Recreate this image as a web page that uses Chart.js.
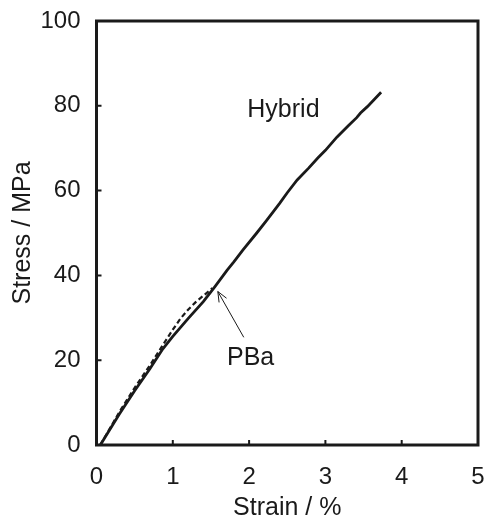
<!DOCTYPE html>
<html>
<head>
<meta charset="utf-8">
<script src="https://cdn.jsdelivr.net/npm/chart.js@4"></script>
<style>
  html, body { margin: 0; padding: 0; background: #fff; }
  #wrap { width: 489px; height: 518px; }
</style>
</head>
<body>
<div id="wrap"><canvas id="stressChart" width="489" height="518"></canvas></div>
<script>
// values (strain %, stress MPa)
const hybridStrain = [0.05, 0.3, 0.5, 0.7, 0.87, 1.0, 1.2, 1.4, 1.55, 1.71, 1.8, 1.92, 2.1, 2.23, 2.4, 2.5, 2.63, 2.78, 2.9, 3.0, 3.15, 3.3, 3.41, 3.46, 3.55, 3.73];
const hybridStress = [0, 7.3, 12.8, 18, 22.7, 25.6, 29.8, 33.8, 37.3, 41.2, 43.2, 46, 50, 53, 57, 59.5, 62.5, 65.3, 67.7, 69.5, 72.6, 75.3, 77.2, 78.3, 79.8, 83.2];
const pbaStrain = [0.05, 0.3, 0.5, 0.7, 0.87, 1.0, 1.1, 1.2, 1.3, 1.4, 1.52];
const pbaStress = [0, 7.8, 13.5, 18.8, 23.6, 27.2, 29.8, 31.9, 33.7, 35.2, 37];

const xTicks = [0, 1, 2, 3, 4, 5];
const yTicks = [0, 20, 40, 60, 80, 100];

const font = "'Liberation Sans', Arial, sans-serif";

function toPoints(xs, ys) {
    return xs.map((x, i) => ({ x: x, y: ys[i] }));
}

// box round the plot, inward ticks, text labels and the arrow
const decor = {
    id: 'decor',
    afterDatasetsDraw(chart) {
        const ctx = chart.ctx;
        const a = chart.chartArea;
        const xs = chart.scales.x;
        const ys = chart.scales.y;
        ctx.save();
        ctx.strokeStyle = '#1a1a1a';
        ctx.lineWidth = 3;
        ctx.strokeRect(a.left, a.top, a.right - a.left, a.bottom - a.top);
        ctx.lineWidth = 2;
        ctx.beginPath();
        xTicks.forEach(v => {
            const px = xs.getPixelForValue(v);
            ctx.moveTo(px, a.bottom);
            ctx.lineTo(px, a.bottom - 5);
        });
        yTicks.forEach(v => {
            const py = ys.getPixelForValue(v);
            ctx.moveTo(a.left, py);
            ctx.lineTo(a.left + 5, py);
        });
        ctx.stroke();

        ctx.fillStyle = '#1a1a1a';
        ctx.font = '25px ' + font;
        ctx.textAlign = 'center';
        ctx.textBaseline = 'middle';
        ctx.fillText('Hybrid', xs.getPixelForValue(2.45), ys.getPixelForValue(79));
        ctx.fillText('PBa', xs.getPixelForValue(2.02), ys.getPixelForValue(20.5));

        // arrow pointing at the end of PBa
        const hx = xs.getPixelForValue(1.59), hy = ys.getPixelForValue(36.2);
        const tx = xs.getPixelForValue(1.93), ty = ys.getPixelForValue(25.4);
        const ang = Math.atan2(hy - ty, hx - tx);
        ctx.lineWidth = 1;
        ctx.beginPath();
        ctx.moveTo(tx, ty);
        ctx.lineTo(hx, hy);
        ctx.moveTo(hx - 11 * Math.cos(ang - 0.4), hy - 11 * Math.sin(ang - 0.4));
        ctx.lineTo(hx, hy);
        ctx.lineTo(hx - 11 * Math.cos(ang + 0.4), hy - 11 * Math.sin(ang + 0.4));
        ctx.stroke();
        ctx.restore();
    }
};

const ctx = document.getElementById('stressChart').getContext('2d');
const stressChart = new Chart(ctx, {
    type: 'scatter',
    data: {
        datasets: [
            {
                label: 'PBa',
                data: toPoints(pbaStrain, pbaStress),
                showLine: true,
                borderColor: '#1a1a1a',
                borderWidth: 2.2,
                borderDash: [5, 3],
                pointRadius: 0,
                tension: 0
            },
            {
                label: 'Hybrid',
                data: toPoints(hybridStrain, hybridStress),
                showLine: true,
                borderColor: '#1a1a1a',
                borderWidth: 2.8,
                pointRadius: 0,
                tension: 0
            }
        ]
    },
    options: {
        responsive: false,
        animation: false,
        layout: { padding: { top: 21, right: 11, left: 0, bottom: 0 } },
        plugins: {
            legend: { display: false },
            tooltip: { enabled: false }
        },
        scales: {
            x: {
                type: 'linear',
                min: 0,
                max: 5,
                afterBuildTicks: s => { s.ticks = xTicks.map(v => ({ value: v })); },
                afterFit: s => {
                    s.height = 73;
                    s.paddingLeft = 0;
                    s.paddingRight = 0;
                },
                grid: { display: false, drawTicks: false },
                border: { display: false },
                ticks: { color: '#1a1a1a', font: { family: font, size: 24 }, padding: 18, maxRotation: 0 },
                title: { display: true, text: 'Strain / %', color: '#1a1a1a', font: { family: font, size: 25, lineHeight: 0.8 }, padding: 0 }
            },
            y: {
                type: 'linear',
                min: 0,
                max: 100,
                afterBuildTicks: s => { s.ticks = yTicks.map(v => ({ value: v })); },
                afterFit: s => {
                    s.width = 96.5;
                    s.paddingTop = 0;
                    s.paddingBottom = 0;
                },
                grid: { display: false, drawTicks: false },
                border: { display: false },
                ticks: { color: '#1a1a1a', font: { family: font, size: 24 }, padding: 16 },
                title: { display: true, text: 'Stress / MPa', color: '#1a1a1a', font: { family: font, size: 25 }, padding: { top: 8, bottom: 0 } }
            }
        }
    },
    plugins: [decor]
});
</script>
</body>
</html>
